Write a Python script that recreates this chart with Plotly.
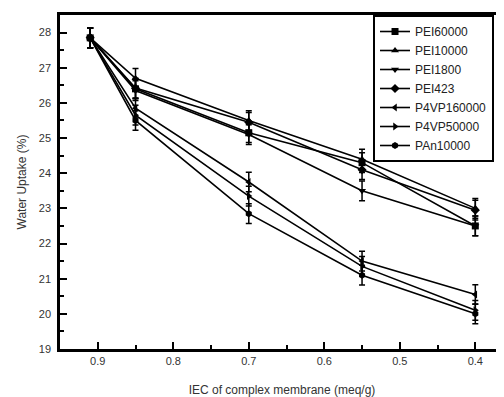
import plotly.graph_objects as go

iec = [0.91, 0.85, 0.70, 0.55, 0.40]
series_names = ["PEI60000", "PEI10000", "PEI1800", "PEI423",
                "P4VP160000", "P4VP50000", "PAn10000"]
pei60000 = [27.85, 26.40, 25.15, 24.30, 22.50]
pei10000 = [27.85, 26.70, 25.50, 24.40, 23.00]
pei1800 = [27.85, 26.35, 25.10, 23.50, 22.50]
pei423 = [27.85, 26.42, 25.45, 24.10, 22.95]
p4vp160000 = [27.85, 25.85, 23.75, 21.50, 20.55]
p4vp50000 = [27.85, 25.65, 23.35, 21.35, 20.10]
pan10000 = [27.85, 25.50, 22.85, 21.10, 20.00]
err = [0.28, 0.28, 0.28, 0.28, 0.28]

values = [pei60000, pei10000, pei1800, pei423, p4vp160000, p4vp50000, pan10000]
symbols = ["square", "triangle-up", "triangle-down", "diamond",
           "triangle-left", "triangle-right", "hexagon"]

fig = go.Figure()
for name, vals, sym in zip(series_names, values, symbols):
    fig.add_trace(go.Scatter(
        x=iec, y=vals, name=name, mode="lines+markers",
        line=dict(color="black", width=1.6),
        marker=dict(symbol=sym, size=7, color="black"),
        error_y=dict(type="data", array=err, color="black", thickness=1.5, width=3),
    ))

axis_font = dict(family="Arial, Liberation Sans, sans-serif", size=11, color="#333")
fig.update_layout(
    width=504, height=389,
    margin=dict(l=52, r=8, t=7, b=48, autoexpand=False),
    paper_bgcolor="white", plot_bgcolor="white",
    font=axis_font,
    showlegend=True,
    legend=dict(
        x=0.705, y=1, xanchor="left", yanchor="top",
        bgcolor="white", bordercolor="black", borderwidth=2,
        font=dict(family="Arial, Liberation Sans, sans-serif", size=12, color="#222"),
        tracegroupgap=0, itemwidth=30,
    ),
    xaxis=dict(
        range=[0.95, 0.362], tickvals=[0.9, 0.8, 0.7, 0.6, 0.5, 0.4],
        ticktext=["0.9", "0.8", "0.7", "0.6", "0.5", "0.4"],
        ticks="inside", ticklen=7, tickwidth=2, tickcolor="black",
        minor=dict(tickvals=[0.85, 0.75, 0.65, 0.55, 0.45], ticks="inside",
                   ticklen=4, tickwidth=2, tickcolor="black"),
        showline=True, linecolor="black", linewidth=2.5, mirror=True,
        showgrid=False, zeroline=False,
        title=dict(text="IEC of complex membrane (meq/g)", font=dict(size=12, color="#333"), standoff=22),
    ),
    yaxis=dict(
        range=[19, 28.5], tickvals=list(range(19, 29)),
        ticks="inside", ticklen=7, tickwidth=2, tickcolor="black",
        minor=dict(tickvals=[19.5 + i for i in range(9)], ticks="inside",
                   ticklen=4, tickwidth=2, tickcolor="black"),
        showline=True, linecolor="black", linewidth=2.5,
        showgrid=False, zeroline=False, ticklabelstandoff=4,
        title=dict(text="Water Uptake (%)", font=dict(size=12, color="#333"), standoff=10),
    ),
)

fig.write_html("out.html")
